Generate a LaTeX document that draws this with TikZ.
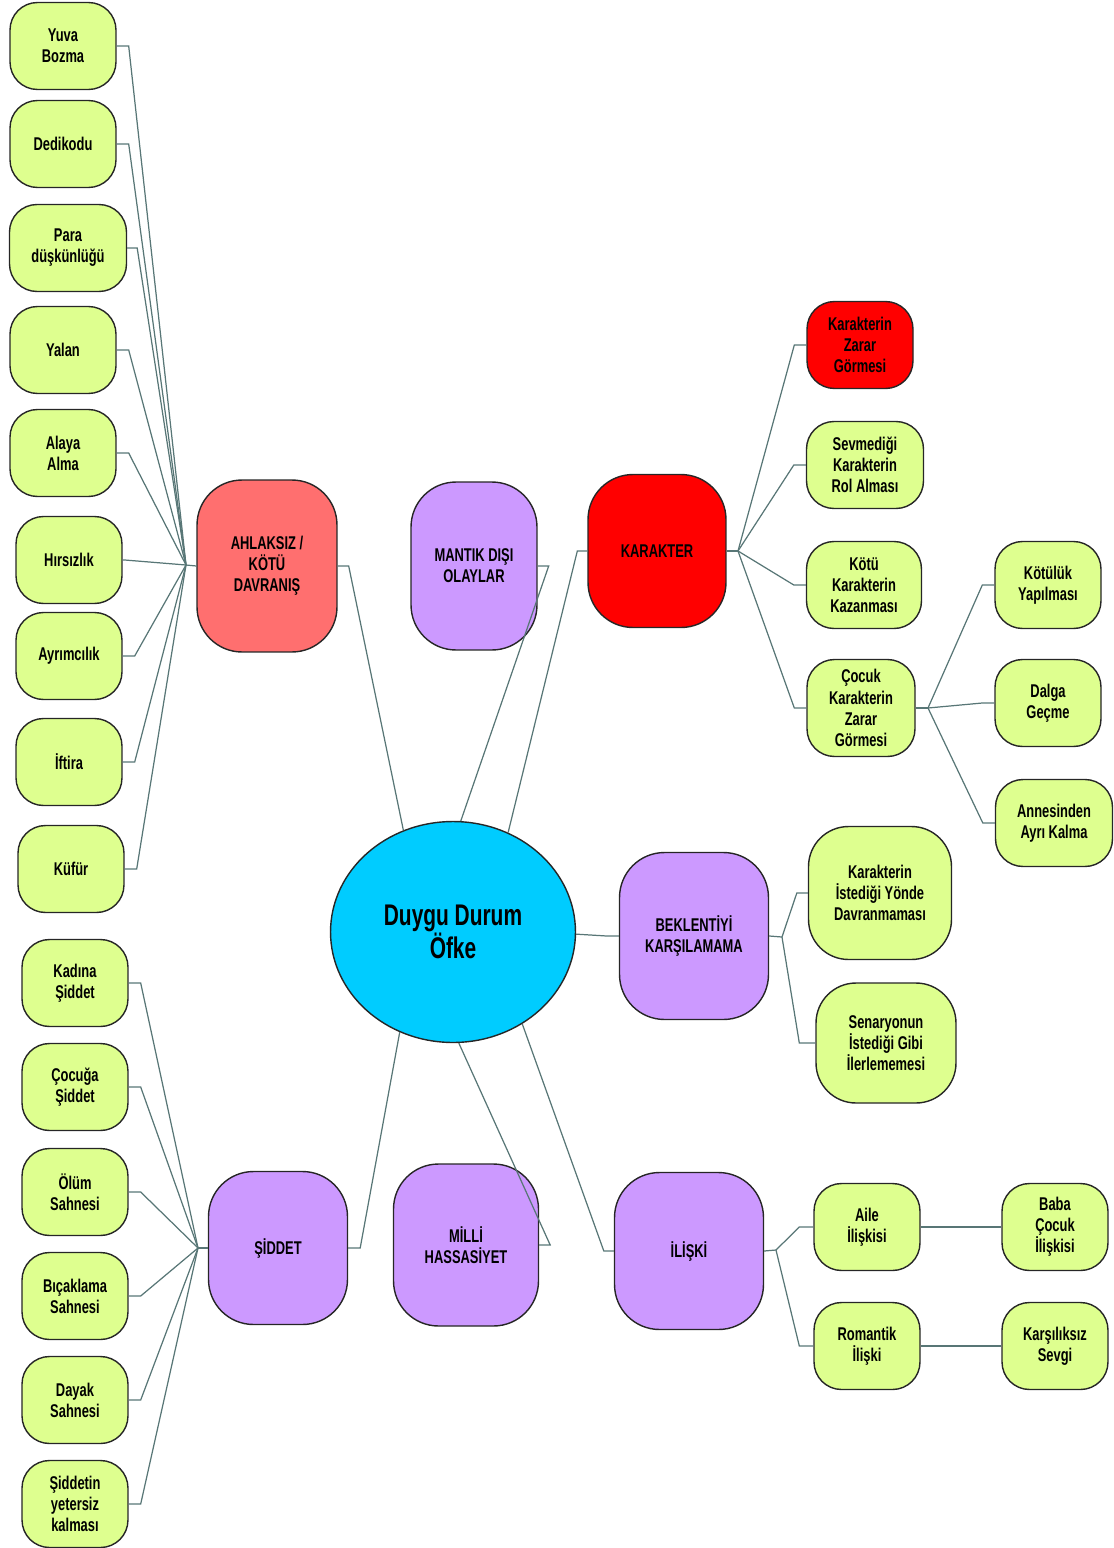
\documentclass[tikz,border=0pt]{standalone}
\usepackage{fontspec}
\setmainfont[FakeStretch=0.7]{Liberation Sans}
\usetikzlibrary{shapes.geometric}
\definecolor{leafgreen}{RGB}{222,255,143}
\definecolor{topicpurple}{RGB}{204,153,255}
\definecolor{topicsalmon}{RGB}{255,111,111}
\definecolor{topicred}{RGB}{255,0,0}
\definecolor{corecyan}{RGB}{0,204,255}
\definecolor{linkgray}{RGB}{88,118,118}
\tikzset{link/.style={draw=linkgray, line width=0.7pt}}

\begin{document}
\begin{tikzpicture}[x=0.02cm, y=-0.02cm,
  leaf/.style={rectangle, rounded corners=0.55cm, draw=black!85, line width=0.8pt, fill=leafgreen, align=center, inner sep=0pt, minimum width=2.12cm, minimum height=1.74cm, font=\fontsize{10.5}{12}\selectfont\bfseries},
  topic/.style={rectangle, rounded corners=0.9cm, draw=black!85, line width=0.8pt, fill=topicpurple, align=center, inner sep=0pt, font=\fontsize{10.5}{12}\selectfont\bfseries},
  core/.style={ellipse, draw=black!85, line width=0.8pt, fill=corecyan, align=center, inner sep=0pt, minimum width=4.9cm, minimum height=4.42cm, font=\fontsize{17}{19}\selectfont\bfseries}]
    \useasboundingbox (0,0) rectangle (1113,1548);

    % center
    \node[core] (duygu) at (453,932) {Duygu Durum\\Öfke};

    % main topics
    \node[topic, fill=topicsalmon, minimum width=2.8cm, minimum height=3.44cm] (ahlak) at (267,566) {AHLAKSIZ /\\KÖTÜ\\DAVRANIŞ};
    \node[topic, minimum width=2.52cm, minimum height=3.36cm] (mantik) at (474,566) {MANTIK DIŞI\\OLAYLAR};
    \node[topic, fill=topicred, minimum width=2.76cm, minimum height=3.06cm] (karakter) at (657,551) {KARAKTER};
    \node[topic, minimum width=2.98cm, minimum height=3.34cm] (beklenti) at (694,936) {BEKLENTİYİ\\KARŞILAMAMA};
    \node[topic, minimum width=2.98cm, minimum height=3.14cm] (iliski) at (689,1251) {İLİŞKİ};
    \node[topic, minimum width=2.9cm, minimum height=3.24cm] (milli) at (466,1245) {MİLLİ\\HASSASİYET};
    \node[topic, minimum width=2.78cm, minimum height=3.06cm] (siddet) at (278,1248) {ŞİDDET};

    % ahlaksiz / kotu davranis
    \node[leaf] (yuva) at (63,46) {Yuva\\Bozma};
    \node[leaf] (dedikodu) at (63,144) {Dedikodu};
    \node[leaf, minimum width=2.34cm] (para) at (68,248) {Para\\düşkünlüğü};
    \node[leaf] (yalan) at (63,350) {Yalan};
    \node[leaf] (alaya) at (63,453) {Alaya\\Alma};
    \node[leaf] (hirsizlik) at (69,560) {Hırsızlık};
    \node[leaf] (ayrimcilik) at (69,656) {Ayrımcılık};
    \node[leaf] (iftira) at (69,762) {İftira};
    \node[leaf] (kufur) at (71,869) {Küfür};

    % siddet
    \node[leaf] (kadina) at (75,983) {Kadına\\Şiddet};
    \node[leaf] (cocuga) at (75,1087) {Çocuğa\\Şiddet};
    \node[leaf] (olum) at (75,1192) {Ölüm\\Sahnesi};
    \node[leaf] (bicaklama) at (75,1296) {Bıçaklama\\Sahnesi};
    \node[leaf] (dayak) at (75,1400) {Dayak\\Sahnesi};
    \node[leaf] (yetersiz) at (75,1504) {Şiddetin\\yetersiz\\kalması};

    % karakter
    \node[leaf, fill=topicred] (zarar) at (860,345) {Karakterin\\Zarar\\Görmesi};
    \node[leaf, minimum width=2.34cm] (sevmedigi) at (865,465) {Sevmediği\\Karakterin\\Rol Alması};
    \node[leaf, minimum width=2.3cm] (kotu) at (864,585) {Kötü\\Karakterin\\Kazanması};
    \node[leaf, minimum width=2.16cm, minimum height=1.94cm] (cocuk) at (861,708) {Çocuk\\Karakterin\\Zarar\\Görmesi};
    \node[leaf] (kotuluk) at (1048,585) {Kötülük\\Yapılması};
    \node[leaf] (dalga) at (1048,703) {Dalga\\Geçme};
    \node[leaf, minimum width=2.34cm] (annesinden) at (1054,823) {Annesinden\\Ayrı Kalma};

    % beklentiyi karsilamama
    \node[leaf, rounded corners=0.8cm, minimum width=2.86cm, minimum height=2.66cm] (yonde) at (880,893) {Karakterin\\İstediği Yönde\\Davranmaması};
    \node[leaf, rounded corners=0.8cm, minimum width=2.8cm, minimum height=2.4cm] (senaryo) at (886,1043) {Senaryonun\\İstediği Gibi\\İlerlememesi};

    % iliski
    \node[leaf] (aile) at (867,1227) {Aile\\İlişkisi};
    \node[leaf] (romantik) at (867,1346) {Romantik\\İlişki};
    \node[leaf] (baba) at (1055,1227) {Baba\\Çocuk\\İlişkisi};
    \node[leaf] (karsiliksiz) at (1055,1346) {Karşılıksız\\Sevgi};

    % hubs
    \coordinate (ahlakhub) at (186,565);
    \coordinate (siddethub) at (198,1248);
    \coordinate (karakterhub) at (738,551);
    \coordinate (cocukhub) at (928,708);
    \coordinate (beklentihub) at (782,937);
    \coordinate (iliskihub) at (776,1250);

    % topics to center
    \draw[link] (ahlak.east) -- ++(11,0) -- (duygu.116);
    \draw[link] (mantik.east) -- ++(11,0) -- (duygu.86);
    \draw[link] (karakter.west) -- ++(-10,0) -- (duygu.61);
    \draw[link] (beklenti.west) -- ++(-12,0) -- (duygu.359);
    \draw[link] (iliski.west) -- ++(-10,0) -- (duygu.-53);
    \draw[link] (milli.east) -- ++(11,0) -- (duygu.-87);
    \draw[link] (siddet.east) -- ++(12,0) -- (duygu.-118);

    % leaves to topics
    \draw[link] (ahlakhub) -- (ahlak.west);
    \draw[link] (yuva.east) -- ++(12,0) -- (ahlakhub);
    \draw[link] (dedikodu.east) -- ++(12,0) -- (ahlakhub);
    \draw[link] (para.east) -- ++(10,0) -- (ahlakhub);
    \draw[link] (yalan.east) -- ++(12,0) -- (ahlakhub);
    \draw[link] (alaya.east) -- ++(12,0) -- (ahlakhub);
    \draw[link] (hirsizlik.east) -- ++(2,0) -- (ahlakhub);
    \draw[link] (ayrimcilik.east) -- ++(12,0) -- (ahlakhub);
    \draw[link] (iftira.east) -- ++(12,0) -- (ahlakhub);
    \draw[link] (kufur.east) -- ++(12,0) -- (ahlakhub);

    \draw[link] (siddethub) -- (siddet.west);
    \draw[link] (kadina.east) -- ++(12,0) -- (siddethub);
    \draw[link] (cocuga.east) -- ++(12,0) -- (siddethub);
    \draw[link] (olum.east) -- ++(12,0) -- (siddethub);
    \draw[link] (bicaklama.east) -- ++(12,0) -- (siddethub);
    \draw[link] (dayak.east) -- ++(12,0) -- (siddethub);
    \draw[link] (yetersiz.east) -- ++(12,0) -- (siddethub);

    \draw[link] (karakter.east) -- (karakterhub);
    \draw[link] (zarar.west) -- ++(-12,0) -- (karakterhub);
    \draw[link] (sevmedigi.west) -- ++(-12,0) -- (karakterhub);
    \draw[link] (kotu.west) -- ++(-12,0) -- (karakterhub);
    \draw[link] (cocuk.west) -- ++(-12,0) -- (karakterhub);

    \draw[link] (cocuk.east) -- (cocukhub);
    \draw[link] (kotuluk.west) -- ++(-12,0) -- (cocukhub);
    \draw[link] (dalga.west) -- ++(-12,0) -- (cocukhub);
    \draw[link] (annesinden.west) -- ++(-12,0) -- (cocukhub);

    \draw[link] (beklenti.east) -- (beklentihub);
    \draw[link] (yonde.west) -- ++(-11,0) -- (beklentihub);
    \draw[link] (senaryo.west) -- ++(-16,0) -- (beklentihub);

    \draw[link] (iliski.east) -- (iliskihub);
    \draw[link] (aile.west) -- ++(-14,0) -- (iliskihub);
    \draw[link] (romantik.west) -- ++(-14,0) -- (iliskihub);
    \draw[link] (aile.east) -- (baba.west);
    \draw[link] (romantik.east) -- (karsiliksiz.west);
\end{tikzpicture}
\end{document}
